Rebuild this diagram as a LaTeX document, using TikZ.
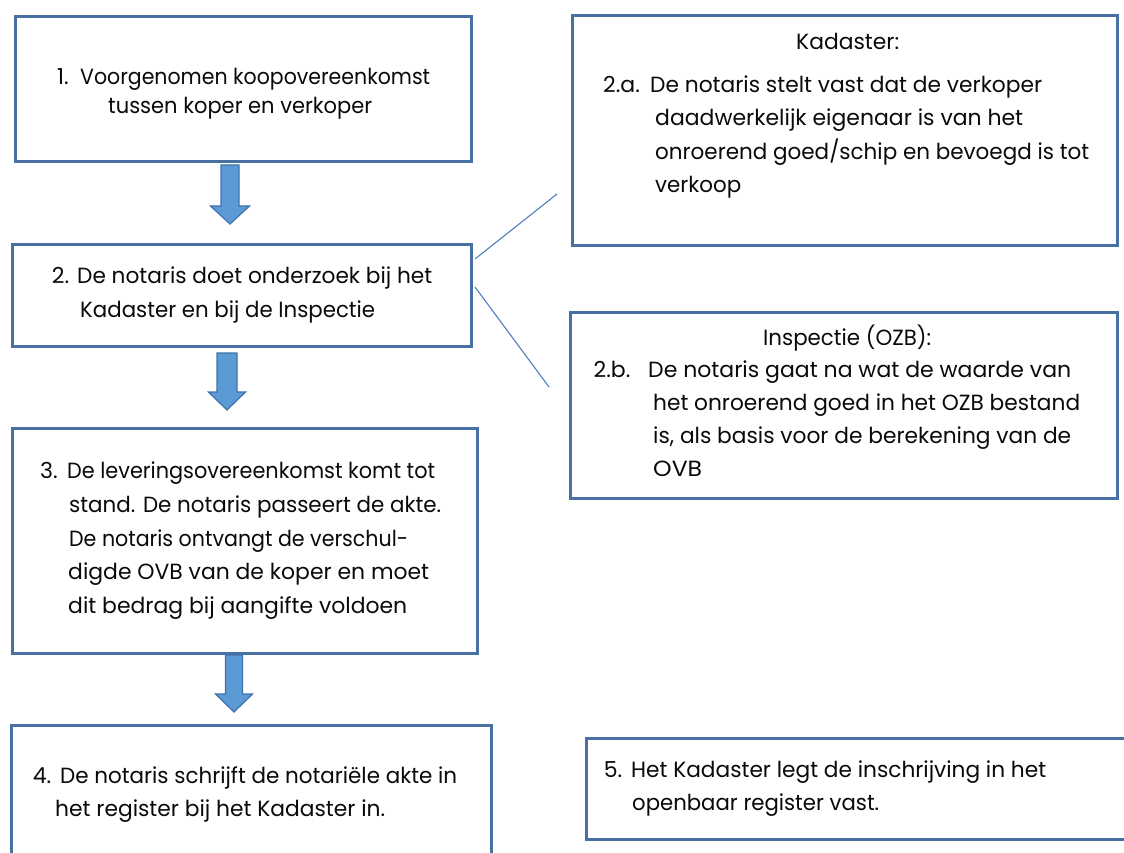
\documentclass[tikz,border=0pt]{standalone}
\usepackage{fontspec}
\setmainfont{Poppins}
\usepackage{graphicx}
\definecolor{boxedge}{RGB}{72,112,162}
\definecolor{arrowfill}{RGB}{91,155,213}
\definecolor{arrowedge}{RGB}{65,113,170}
\definecolor{linkblue}{RGB}{79,129,189}
\definecolor{ink}{RGB}{10,10,10}
\newlength\fitlen
\newcommand\fitto[2]{\settowidth\fitlen{#2}\pgfmathsetmacro\fitsx{(#1)/\fitlen}\scalebox{\fitsx}[1]{#2}}
\newcommand\Tl[5]{\node[txt] (#1) at (#2,#4) {\fitto{#3-#2}{#5}};}
\newcommand\Tn[5]{\node[txt, anchor=base] (#1) at ({(#2+#3)/2},#4) {#5};}
\newcommand\blockarrow[6]{% cx, top, headstart, tip, shafthalf, headhalf
  \path[blockarr] (#1-#5,#2) -- (#1+#5,#2) -- (#1+#5,#3) -- (#1+#6,#3) -- (#1,#4) -- (#1-#6,#3) -- (#1-#5,#3) -- cycle;}
\tikzset{
  box/.style={draw=boxedge, line width=3pt, fill=white, rectangle, inner sep=0pt, anchor=north west},
  txt/.style={anchor=base west, inner sep=0pt, text=ink, font=\fontsize{22}{26}\selectfont},
  blockarr/.style={fill=arrowfill, draw=arrowedge, line width=1.2pt, line join=miter},
  link/.style={draw=linkblue, line width=1.1pt},
}
\begin{document}
\begin{tikzpicture}[x=1pt,y=-1pt]
\path[use as bounding box, clip] (0,0) rectangle (1124,853);
\fill[white] (0,0) rectangle (1124,853);
% boxes
\node[box, minimum width=456pt, minimum height=145pt] (b1) at (14,15) {};
\node[box, minimum width=459pt, minimum height=102pt] (b2) at (11,243) {};
\node[box, minimum width=465pt, minimum height=225pt] (b3) at (11,427) {};
\node[box, minimum width=480pt, minimum height=160pt] (b4) at (10,724) {};
\node[box, minimum width=560pt, minimum height=101pt] (b5) at (585,737) {};
\node[box, minimum width=545pt, minimum height=230pt] (b2a) at (571,14) {};
\node[box, minimum width=547pt, minimum height=186pt] (b2b) at (569,311) {};
% connectors from box 2
\coordinate (ea) at (557,194);
\coordinate (eb) at (549,387);
\draw[link] (b2.north east |- 0,259) ++(2,0) coordinate (sa) -- (ea);
\draw[link] (b2.north east |- 0,287) ++(2,0) coordinate (sb) -- (eb);
% block arrows
\blockarrow{230}{165}{206}{224}{9}{19.5}
\blockarrow{227}{353}{392}{410}{10}{18.5}
\blockarrow{234}{655}{694}{712}{8.5}{18.5}
% box 1
\Tn{n1}{53}{73}{85}{1.}
\Tl{t1a}{80}{430}{85}{Voorgenomen koopovereenkomst}
\Tl{t1b}{108}{372}{114}{tussen koper en verkoper}
% box 2
\Tn{n2}{50}{71}{283}{2.}
\Tl{t2a}{77}{432}{283}{De notaris doet onderzoek bij het}
\Tl{t2b}{80}{375}{317}{Kadaster en bij de Inspectie}
% box 2a
\Tl{h2a}{796}{899}{50}{Kadaster:}
\Tn{n2a}{601}{642}{93}{2.a.}
\Tl{t2aa}{650}{1042}{93}{De notaris stelt vast dat de verkoper}
\Tl{t2ab}{655}{1023}{126}{daadwerkelijk eigenaar is van het}
\Tl{t2ac}{655}{1089}{160}{onroerend goed/schip en bevoegd is tot}
\Tl{t2ad}{655}{741}{193}{verkoop}
% box 2b
\Tl{h2b}{763}{931}{345}{Inspectie (OZB):}
\Tn{n2b}{593}{631}{377}{2.b.}
\Tl{t2ba}{648}{1071}{377}{De notaris gaat na wat de waarde van}
\Tl{t2bb}{653}{1080}{410}{het onroerend goed in het OZB bestand}
\Tl{t2bc}{653}{1071}{443}{is, als basis voor de berekening van de}
\Tl{t2bd}{653}{702}{476}{OVB}
% box 3
\Tn{n3}{40}{58}{478}{3.}
\Tl{t3a}{67}{435}{478}{De leveringsovereenkomst komt tot}
\Tl{t3b}{69}{441}{512}{stand. De notaris passeert de akte.}
\Tl{t3c}{69}{408}{546}{De notaris ontvangt de verschul-}
\Tl{t3d}{68}{429}{579}{digde OVB van de koper en moet}
\Tl{t3e}{68}{407}{613}{dit bedrag bij aangifte voldoen}
% box 4
\Tn{n4}{30}{54}{783}{4.}
\Tl{t4a}{60}{457}{783}{De notaris schrijft de notariële akte in}
\Tl{t4b}{55}{385}{816}{het register bij het Kadaster in.}
% box 5
\Tn{n5}{601}{625}{777}{5.}
\Tl{t5a}{631}{1046}{777}{Het Kadaster legt de inschrijving in het}
\Tl{t5b}{632}{879}{810}{openbaar register vast.}
\end{tikzpicture}
\end{document}
